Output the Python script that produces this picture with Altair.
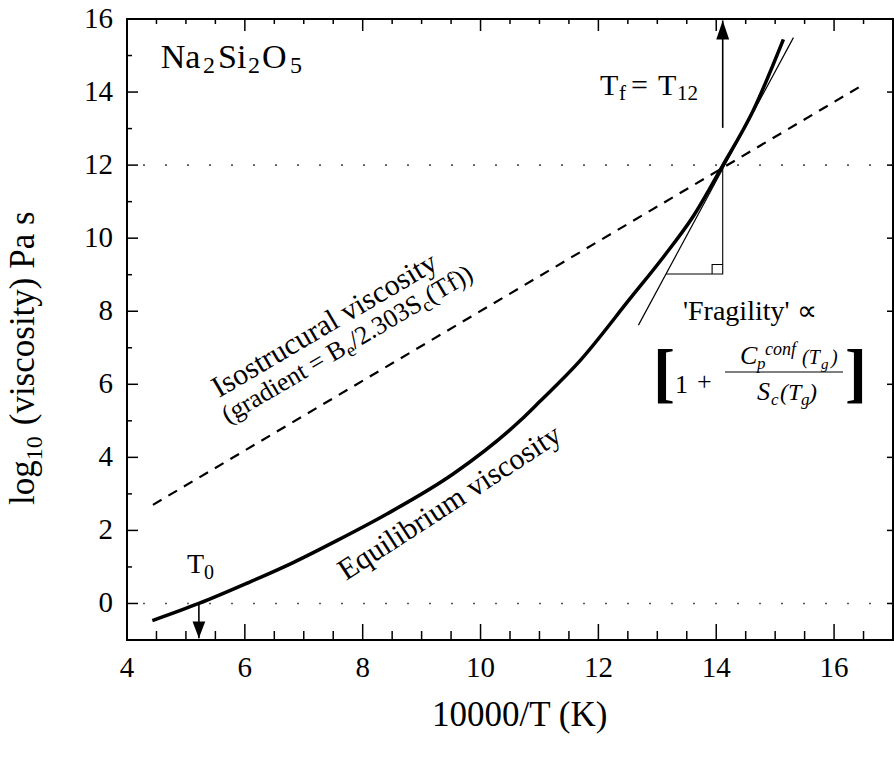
import math
import altair as alt
import pandas as pd

# ---------------- data ----------------
eq_x = [4.43, 5.22, 6.03, 6.82, 7.56, 8.41, 9.54, 10.67, 11.0, 11.69, 12.54, 13.11, 13.61, 14.1, 14.63, 15.14]
eq_y = [-0.47, 0.0, 0.55, 1.12, 1.72, 2.45, 3.55, 5.0, 5.52, 6.65, 8.35, 9.5, 10.6, 11.96, 13.5, 15.44]

iso_x = [4.44, 16.42]
iso_y = [2.70, 14.13]

tan_x = [12.68, 15.31]
tan_y = [7.62, 15.49]

tri_x = [13.15, 14.11, 14.11]
tri_y = [9.02, 9.02, 12.0]

sq_x = [13.93, 13.93, 14.11]
sq_y = [9.02, 9.28, 9.28]

ref_levels = [12, 0]

t0_x = [5.22]
t0_y = [0.0]
t0_tip = [-0.95]
tf_x = [14.11]
tf_y = [13.02]
tf_tip = [15.96]

x_labels = [4, 6, 8, 10, 12, 14, 16]
y_labels = [0, 2, 4, 6, 8, 10, 12, 14, 16]
x_major = [6, 8, 10, 12, 14, 16]
x_minor = [4.5, 5, 5.5, 6.5, 7, 7.5, 8.5, 9, 9.5, 10.5, 11, 11.5, 12.5, 13, 13.5, 14.5, 15, 15.5, 16.5]
y_major = [0, 2, 4, 6, 8, 10, 12, 14]
y_minor = [1, 3, 5, 7, 9, 11, 13, 15]

# ---------------- layout ----------------
W, H = 766, 621
LEFT, TOP = 127, 19
XD, YD = [4, 17], [-1, 16]
FONT = "Liberation Serif"

xs = alt.Scale(domain=XD, nice=False, zero=False)
ys = alt.Scale(domain=YD, nice=False, zero=False)


def px_x(px):
    return XD[0] + (px - LEFT) * (XD[1] - XD[0]) / W


def px_y(py):
    return YD[1] - (py - TOP) * (YD[1] - YD[0]) / H


# Times / Liberation Serif advance widths (per 1000 em)
ADV = {' ': 250, '(': 333, ')': 333, '/': 278, '.': 250, '=': 564, '+': 564, "'": 180,
       'B': 667, 'C': 667, 'E': 611, 'F': 556, 'I': 333, 'K': 722, 'N': 722, 'O': 722,
       'P': 556, 'S': 556, 'T': 611, 'a': 444, 'b': 500, 'c': 444, 'd': 500, 'e': 444,
       'f': 333, 'g': 500, 'i': 278, 'l': 278, 'm': 778, 'n': 500, 'o': 500, 'p': 500,
       'q': 500, 'r': 333, 's': 389, 't': 278, 'u': 500, 'v': 500, 'y': 500}


def adv(s, size):
    return sum(ADV.get(ch, 500) for ch in s) * size / 1000.0


texts = {"normal": [], "italic": [], "bold": []}


def put(style, text, px, py, size, angle=0):
    texts[style].append(dict(text=text, x=px_x(px), y=px_y(py), size=size, angle=angle))


def run(style, pieces, sx, sy, a_deg):
    """pieces: (text, size, perpendicular shift, extra gap before)"""
    a = math.radians(a_deg)
    pos = 0.0
    for text, size, perp, gap in pieces:
        pos += gap
        x = sx + pos * math.cos(a) + perp * math.sin(a)
        y = sy - pos * math.sin(a) + perp * math.cos(a)
        put(style, text, x, y, size, (360 - a_deg) % 360)
        pos += adv(text, size)


# compound label
for t, px, py, sz in [("Na", 160.7, 68, 34), ("2", 203, 73, 24), ("Si", 218, 68, 34),
                      ("2", 248, 73, 24), ("O", 262, 68, 34), ("5", 290, 73, 24)]:
    put("normal", t, px, py, sz)

# T_f = T_12
for t, px, py, sz in [("T", 600, 95, 30), ("f", 619, 100, 21), ("=", 631, 95, 30),
                      ("T", 658, 95, 30), ("12", 677, 100, 21)]:
    put("normal", t, px, py, sz)

# T_0
put("normal", "T", 187, 573, 28)
put("normal", "0", 204, 579, 20)

# Fragility
put("normal", "'Fragility' \u221d", 683, 320, 28)
put("bold", "[", 653, 395, 66)
put("bold", "]", 845, 395, 66)
put("normal", "1", 675, 393, 26)
put("normal", "+", 697, 390, 26)
# numerator
for t, px, py, sz in [("C", 740, 364, 26), ("p", 757, 369, 17), ("conf", 765, 355, 18),
                      ("(T", 802, 364, 20), ("g", 821, 369, 15), (")", 831, 364, 20)]:
    put("italic", t, px, py, sz)
# denominator
for t, px, py, sz in [("S", 757, 400, 26), ("c", 771, 405, 17), ("(T", 780, 400, 24),
                      ("g", 801, 405, 17), (")", 809, 400, 24)]:
    put("italic", t, px, py, sz)

# rotated labels
run("normal", [("Equilibrium viscosity", 30, 0, 0)], 346, 581, 33)
run("normal", [("Isostrucural viscosity", 30, 0, 0)], 219, 398, 30.5)
run("normal", [("(gradient = B", 26, 0, 0), ("e", 19, 5, 0), ("/2.303S", 26, 0, 0), ("c", 19, 5, 0),
               ("(Tf))", 26, 0, 0)], 228, 424, 30.5)

# axis titles
run("normal", [("log", 35, 0, 0), ("10", 24, 8, 0), ("(viscosity) Pa s", 35, 0, 11)], 33.5, 505, 90)
xt = "10000/T (K)"
put("normal", xt, 520 - adv(xt, 35) / 2, 726, 35)

# fraction bar
frac = pd.DataFrame({"x": [px_x(725)], "x2": [px_x(843)], "y": [px_y(372)]})

# ---------------- chart ----------------
def X(field="x:Q"):
    return alt.X(field, scale=xs, axis=None)


def Y(field="y:Q"):
    return alt.Y(field, scale=ys, axis=None)


def path_df(xv, yv):
    return pd.DataFrame({"x": xv, "y": yv, "i": list(range(len(xv)))})


refs = alt.Chart(pd.DataFrame({"y": ref_levels})).mark_rule(
    color="#555555", strokeWidth=1.6, strokeDash=[2, 20]).encode(y=Y())

eq = alt.Chart(path_df(eq_x, eq_y)).mark_line(color="black", strokeWidth=3.5, interpolate="monotone").encode(
    x=X(), y=Y(), order="i:Q")
iso = alt.Chart(path_df(iso_x, iso_y)).mark_line(color="black", strokeWidth=2.2, strokeDash=[10, 8]).encode(
    x=X(), y=Y(), order="i:Q")
tan = alt.Chart(path_df(tan_x, tan_y)).mark_line(color="black", strokeWidth=1.2).encode(x=X(), y=Y(), order="i:Q")
tri = alt.Chart(path_df(tri_x, tri_y)).mark_line(color="black", strokeWidth=1.1).encode(x=X(), y=Y(), order="i:Q")
sq = alt.Chart(path_df(sq_x, sq_y)).mark_line(color="black", strokeWidth=1.1).encode(x=X(), y=Y(), order="i:Q")

arrow_df = pd.DataFrame({"x": t0_x + tf_x, "y": t0_y + tf_y, "y2": t0_tip + tf_tip})
arrow_lines = alt.Chart(arrow_df).mark_rule(color="black", strokeWidth=1.6).encode(x=X(), y=Y(), y2="y2:Q")
head_down = alt.Chart(pd.DataFrame({"x": t0_x, "y": t0_tip})).mark_point(
    shape="M0,0L-0.76,-2L0.76,-2Z", size=279, filled=True, color="black", opacity=1, strokeWidth=0).encode(x=X(), y=Y())
head_up = alt.Chart(pd.DataFrame({"x": tf_x, "y": tf_tip})).mark_point(
    shape="M0,0L-0.68,2L0.68,2Z", size=361, filled=True, color="black", opacity=1, strokeWidth=0).encode(x=X(), y=Y())

tick_style = dict(color="black", strokeWidth=1.5)
ticks = [
    alt.Chart(pd.DataFrame({"x": x_major})).mark_rule(**tick_style).encode(x=X(), y=alt.value(H), y2=alt.value(H - 16)),
    alt.Chart(pd.DataFrame({"x": x_minor})).mark_rule(**tick_style).encode(x=X(), y=alt.value(H), y2=alt.value(H - 9)),
    alt.Chart(pd.DataFrame({"x": x_major})).mark_rule(**tick_style).encode(x=X(), y=alt.value(0), y2=alt.value(12)),
    alt.Chart(pd.DataFrame({"x": x_minor})).mark_rule(**tick_style).encode(x=X(), y=alt.value(0), y2=alt.value(5)),
    alt.Chart(pd.DataFrame({"y": y_major})).mark_rule(**tick_style).encode(y=Y(), x=alt.value(0), x2=alt.value(11)),
    alt.Chart(pd.DataFrame({"y": y_minor})).mark_rule(**tick_style).encode(y=Y(), x=alt.value(0), x2=alt.value(5)),
    alt.Chart(pd.DataFrame({"y": y_major})).mark_rule(**tick_style).encode(y=Y(), x=alt.value(W), x2=alt.value(W - 6)),
]

# tick labels (bottom and left)
xlab = alt.Chart(pd.DataFrame({"x": x_labels, "t": [str(v) for v in x_labels]})).mark_text(
    font=FONT, fontSize=29, align="center", baseline="middle", color="black").encode(
    x=X(), y=alt.value(H + 28), text="t:N")
ylab = alt.Chart(pd.DataFrame({"y": y_labels, "t": [str(v) for v in y_labels]})).mark_text(
    font=FONT, fontSize=29, align="right", baseline="middle", color="black").encode(
    y=Y(), x=alt.value(-14), text="t:N")

frac_bar = alt.Chart(frac).mark_rule(color="black", strokeWidth=1).encode(x=X(), x2="x2:Q", y=Y())


def text_layer(style):
    kw = {}
    if style == "italic":
        kw["fontStyle"] = "italic"
    if style == "bold":
        kw["fontWeight"] = "bold"
    return alt.Chart(pd.DataFrame(texts[style])).mark_text(
        font=FONT, align="left", baseline="alphabetic", color="black", **kw).encode(
        x=X(), y=Y(), text="text:N",
        size=alt.Size("size:Q", scale=None), angle=alt.Angle("angle:Q", scale=None))


chart = alt.layer(
    refs, iso, tan, tri, sq, eq, arrow_lines, head_down, head_up, *ticks, frac_bar, xlab, ylab,
    text_layer("normal"), text_layer("italic"), text_layer("bold"),
).properties(
    width=W, height=H,
    autosize=alt.AutoSizeParams(type="none"),
    padding={"left": LEFT, "top": TOP, "right": 1, "bottom": 758 - TOP - H},
    background="white",
).configure_view(stroke="black", strokeWidth=2)

chart.save("out.html", embed_options={"renderer": "svg", "actions": False})
